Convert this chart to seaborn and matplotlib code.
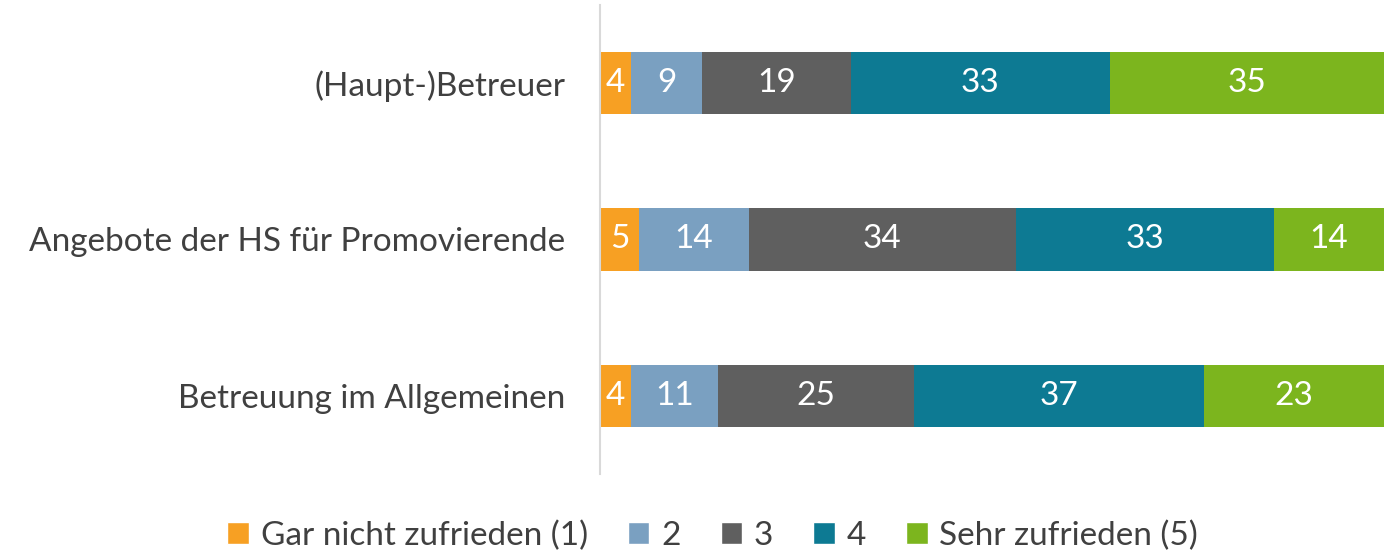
import numpy as np
import pandas as pd
import matplotlib.pyplot as plt
import seaborn as sns
from matplotlib.patches import Patch

# Daten
kategorien = ["(Haupt-)Betreuer", "Angebote der HS für Promovierende", "Betreuung im Allgemeinen"]
stufen = ["Gar nicht zufrieden (1)", "2", "3", "4", "Sehr zufrieden (5)"]
werte_1 = [4, 5, 4]
werte_2 = [9, 14, 11]
werte_3 = [19, 34, 25]
werte_4 = [33, 33, 37]
werte_5 = [35, 14, 23]
farben = ["#F7A023", "#7AA0C1", "#5F5F5F", "#0D7A93", "#7CB51E"]

werte = np.array([werte_1, werte_2, werte_3, werte_4, werte_5])
kumuliert = werte.cumsum(axis=0)

sns.set_style("white")
plt.rcParams['font.family'] = ['Lato', 'DejaVu Sans']

fig = plt.figure(figsize=(13.84, 5.52), dpi=100)
ax = fig.add_axes([0.4335, 0.1413, 0.5665, 0.8497])

# gestapelt: von hinten nach vorne zeichnen
for i in range(len(stufen) - 1, -1, -1):
    df = pd.DataFrame({"kat": kategorien, "wert": kumuliert[i]})
    sns.barplot(data=df, x="wert", y="kat", color=farben[i], width=0.4,
                orient="h", ax=ax, saturation=1, linewidth=0)

# Beschriftungen
for i in range(len(stufen)):
    for j in range(len(kategorien)):
        mitte = kumuliert[i][j] - werte[i][j] / 2
        ax.text(mitte, j, str(werte[i][j]), ha="center", va="center",
                color="white", fontsize=24)

ax.set_xlim(0, 100)
ax.set_ylim(2.5, -0.5)
ax.set_xlabel("")
ax.set_ylabel("")
ax.set_xticks([])
ax.tick_params(axis="y", length=0, labelsize=24, labelcolor="#404040", pad=25)
for s in ["top", "right", "bottom"]:
    ax.spines[s].set_visible(False)
ax.spines["left"].set_color("#D9D9D9")
ax.spines["left"].set_linewidth(1.5)

handles = [Patch(facecolor=f, label=s) for f, s in zip(farben, stufen)]
fig.legend(handles=handles, loc="center", bbox_to_anchor=(0.515, 0.03), ncol=5,
           frameon=False, fontsize=24, handlelength=0.65, handleheight=0.65,
           handletextpad=0.35, columnspacing=1.2, labelcolor="#404040")

fig.savefig("out.png", dpi=100)
